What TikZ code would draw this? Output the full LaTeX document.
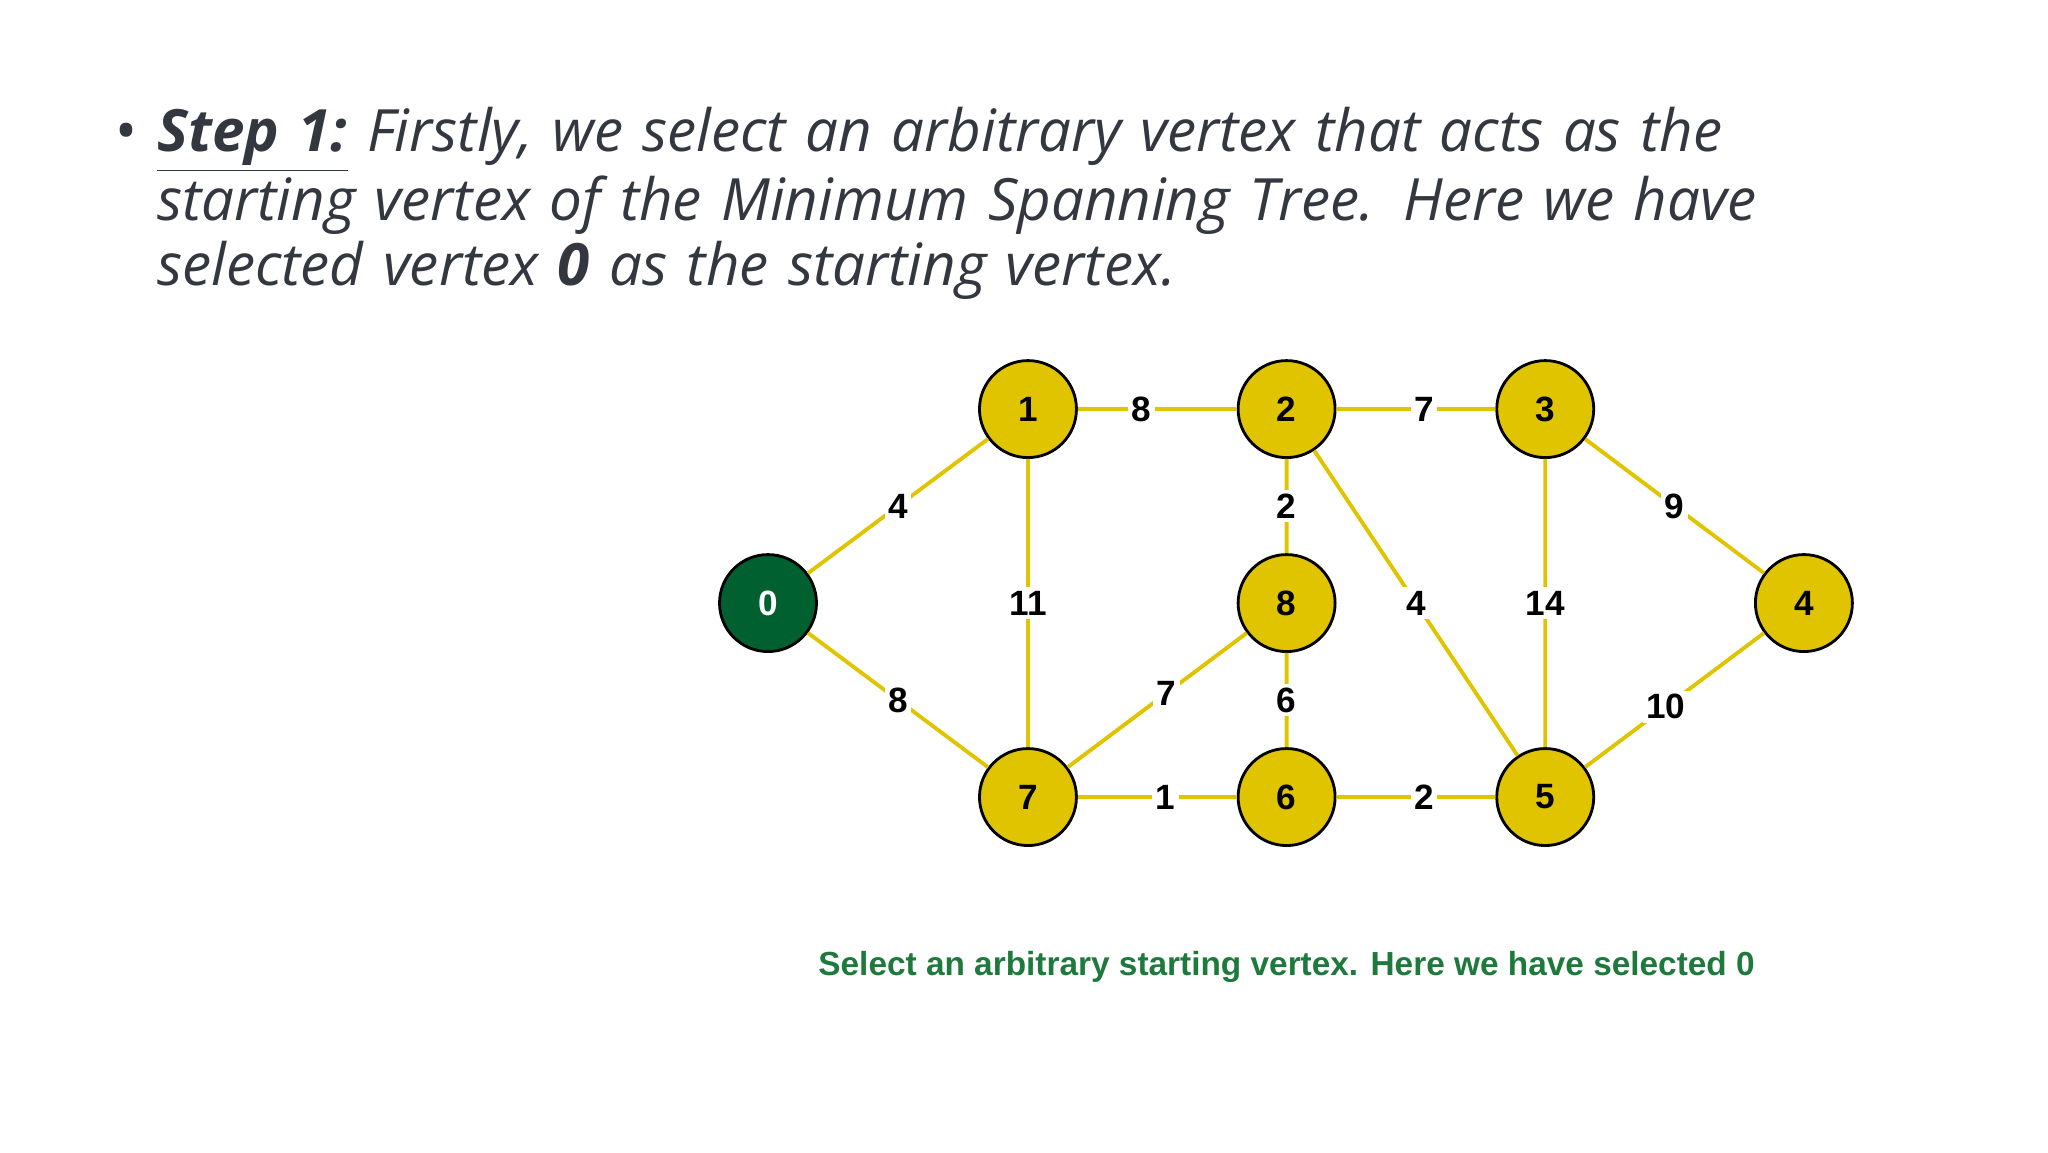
\documentclass[tikz,border=0pt]{standalone}
\usepackage{fontspec}
\setmainfont{Open Sans}
\newfontfamily\labelfont{Liberation Sans}
\usepackage{tikz}

\definecolor{vyellow}{HTML}{E0C400}
\definecolor{vgreen}{HTML}{006030}
\definecolor{capgreen}{HTML}{1E7A3C}
\definecolor{textgray}{HTML}{333840}

\tikzset{
  vertex/.style = {circle, draw = black, thick, fill = vyellow, minimum size = 0.97cm,
    inner sep = 0pt, font = \labelfont\bfseries},
  edge/.style = {draw = vyellow, line width = 1.1pt},
  weight/.style = {fill = white, inner sep = 1pt, font = \labelfont\bfseries}
}

\begin{document}
\begin{tikzpicture}[x = 0.0132cm, y = -0.0132cm]
  \useasboundingbox (0, 0) rectangle (1552, 873);

  \node[anchor = north west, text width = 19cm, align = left, text = textgray,
    font = \fontsize{16.6}{18.4}\selectfont\itshape] (txt) at (78, 72)
    {\makebox[0.42cm][l]{\upshape\textbullet}\textbf{\underline{Step 1:}} Firstly, we select an arbitrary vertex that acts as the\\
     \hspace*{0.42cm}starting vertex of the Minimum Spanning Tree. Here we have\\
     \hspace*{0.42cm}selected vertex \textbf{0} as the starting vertex.};

  \node[vertex, fill = vgreen, text = white] (V0) at (582, 457) {0};
  \node[vertex] (V1) at (779, 310) {1};
  \node[vertex] (V2) at (975, 310) {2};
  \node[vertex] (V3) at (1171, 310) {3};
  \node[vertex] (V4) at (1367, 457) {4};
  \node[vertex] (V8) at (975, 457) {8};
  \node[vertex] (V7) at (779, 604) {7};
  \node[vertex] (V6) at (975, 604) {6};
  \node[vertex] (V5) at (1171, 604) {5};

  \path[edge]
  (V0) -- (V1) node[weight, pos = 0.5] {4}
  (V0) -- (V7) node[weight, pos = 0.5] {8}
  (V1) -- (V2) node[weight, pos = 0.4] {8}
  (V2) -- (V3) node[weight, pos = 0.55] {7}
  (V1) -- (V7) node[weight, pos = 0.5] {11}
  (V2) -- (V8) node[weight, pos = 0.5] {2}
  (V2) -- (V5) node[weight, pos = 0.5] {4}
  (V3) -- (V5) node[weight, pos = 0.5] {14}
  (V3) -- (V4) node[weight, pos = 0.5] {9}
  (V5) -- (V4) node[weight, pos = 0.45] {10}
  (V7) -- (V8) node[weight, pos = 0.55] {7}
  (V8) -- (V6) node[weight, pos = 0.5] {6}
  (V7) -- (V6) node[weight, pos = 0.55] {1}
  (V6) -- (V5) node[weight, pos = 0.55] {2};

  \node[text = capgreen, font = \labelfont\bfseries\fontsize{9.5}{12}\selectfont] (cap)
    at (975, 733) {Select an arbitrary starting vertex. Here we have selected 0};
\end{tikzpicture}
\end{document}
